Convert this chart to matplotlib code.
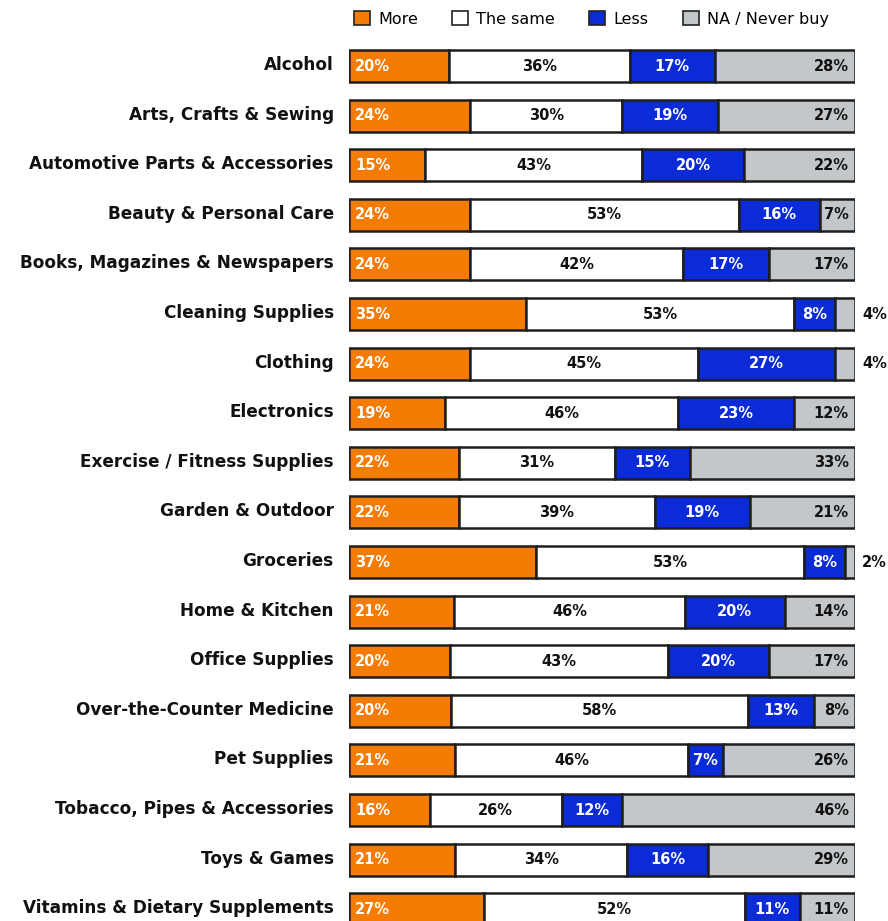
import numpy as np
import matplotlib.pyplot as plt
import matplotlib.transforms as mtransforms
from matplotlib.patches import Patch

# shopping categories, top to bottom
categories = ["Alcohol", "Arts, Crafts & Sewing", "Automotive Parts & Accessories",
              "Beauty & Personal Care", "Books, Magazines & Newspapers", "Cleaning Supplies",
              "Clothing", "Electronics", "Exercise / Fitness Supplies", "Garden & Outdoor",
              "Groceries", "Home & Kitchen", "Office Supplies", "Over-the-Counter Medicine",
              "Pet Supplies", "Tobacco, Pipes & Accessories", "Toys & Games",
              "Vitamins & Dietary Supplements"]

more = [20, 24, 15, 24, 24, 35, 24, 19, 22, 22, 37, 21, 20, 20, 21, 16, 21, 27]
same = [36, 30, 43, 53, 42, 53, 45, 46, 31, 39, 53, 46, 43, 58, 46, 26, 34, 52]
less = [17, 19, 20, 16, 17, 8, 27, 23, 15, 19, 8, 20, 20, 13, 7, 12, 16, 11]
never = [28, 27, 22, 7, 17, 4, 4, 12, 33, 21, 2, 14, 17, 8, 26, 46, 29, 11]

series_names = ["More", "The same", "Less", "NA / Never buy"]
colors = ["#F47B04", "#FFFFFF", "#0A2BD6", "#C3C7C9"]
text_colors = ["white", "#111111", "white", "#111111"]

plt.rcParams['font.family'] = 'DejaVu Sans'

fig = plt.figure(figsize=(8.88, 9.21), dpi=100)
ax = fig.add_axes([349 / 888, 0, 506 / 888, 1])

data = np.array([more, same, less, never], dtype=float)
totals = data.sum(axis=0)
shares = data / totals
y = np.arange(len(categories))

left = np.zeros(len(categories))
for k in range(4):
    ax.barh(y, shares[k], left=left, height=0.645, color=colors[k],
            edgecolor="#1e1e1e", linewidth=1.8)
    for i in range(len(categories)):
        val = data[k, i]
        lab = f"{int(val)}%"
        if k == 0:
            ax.text(left[i] + 0.012, y[i], lab, ha="left", va="center",
                    color=text_colors[k], fontsize=10.5, fontweight="bold")
        elif k == 3:
            # tiny segments get their label outside the bar
            if val < 5:
                ax.text(1.014, y[i], lab, ha="left", va="center", color="#111111",
                        fontsize=10.5, fontweight="bold", clip_on=False)
            else:
                ax.text(left[i] + shares[k, i] - 0.012, y[i], lab, ha="right", va="center",
                        color=text_colors[k], fontsize=10.5, fontweight="bold")
        else:
            ax.text(left[i] + shares[k, i] / 2, y[i], lab, ha="center", va="center",
                    color=text_colors[k], fontsize=10.5, fontweight="bold")
    left += shares[k]

ax.set_xlim(0, 1)
ax.set_ylim((921 - 66) / 49.6, -66 / 49.6)
ax.set_yticks(y)
ax.set_yticklabels(categories, fontsize=12.2, fontweight="bold", color="#111111")
ax.tick_params(axis="y", length=0, pad=11)
# nudge the category names up a little
lift = mtransforms.ScaledTranslation(0, 3 / 100, fig.dpi_scale_trans)
for t in ax.get_yticklabels():
    t.set_transform(t.get_transform() + lift)
ax.set_xticks([])
for s in ax.spines.values():
    s.set_visible(False)

handles = [Patch(facecolor=c, edgecolor="#222222", linewidth=1.2) for c in colors]
fig.legend(handles, series_names, loc="upper left", bbox_to_anchor=(343 / 888, 1.0),
           ncol=4, frameon=False, fontsize=11.5, handlelength=1.0, handleheight=1.0,
           handletextpad=0.5, columnspacing=2.15, borderaxespad=0.3)

fig.savefig("out.png", dpi=100)
